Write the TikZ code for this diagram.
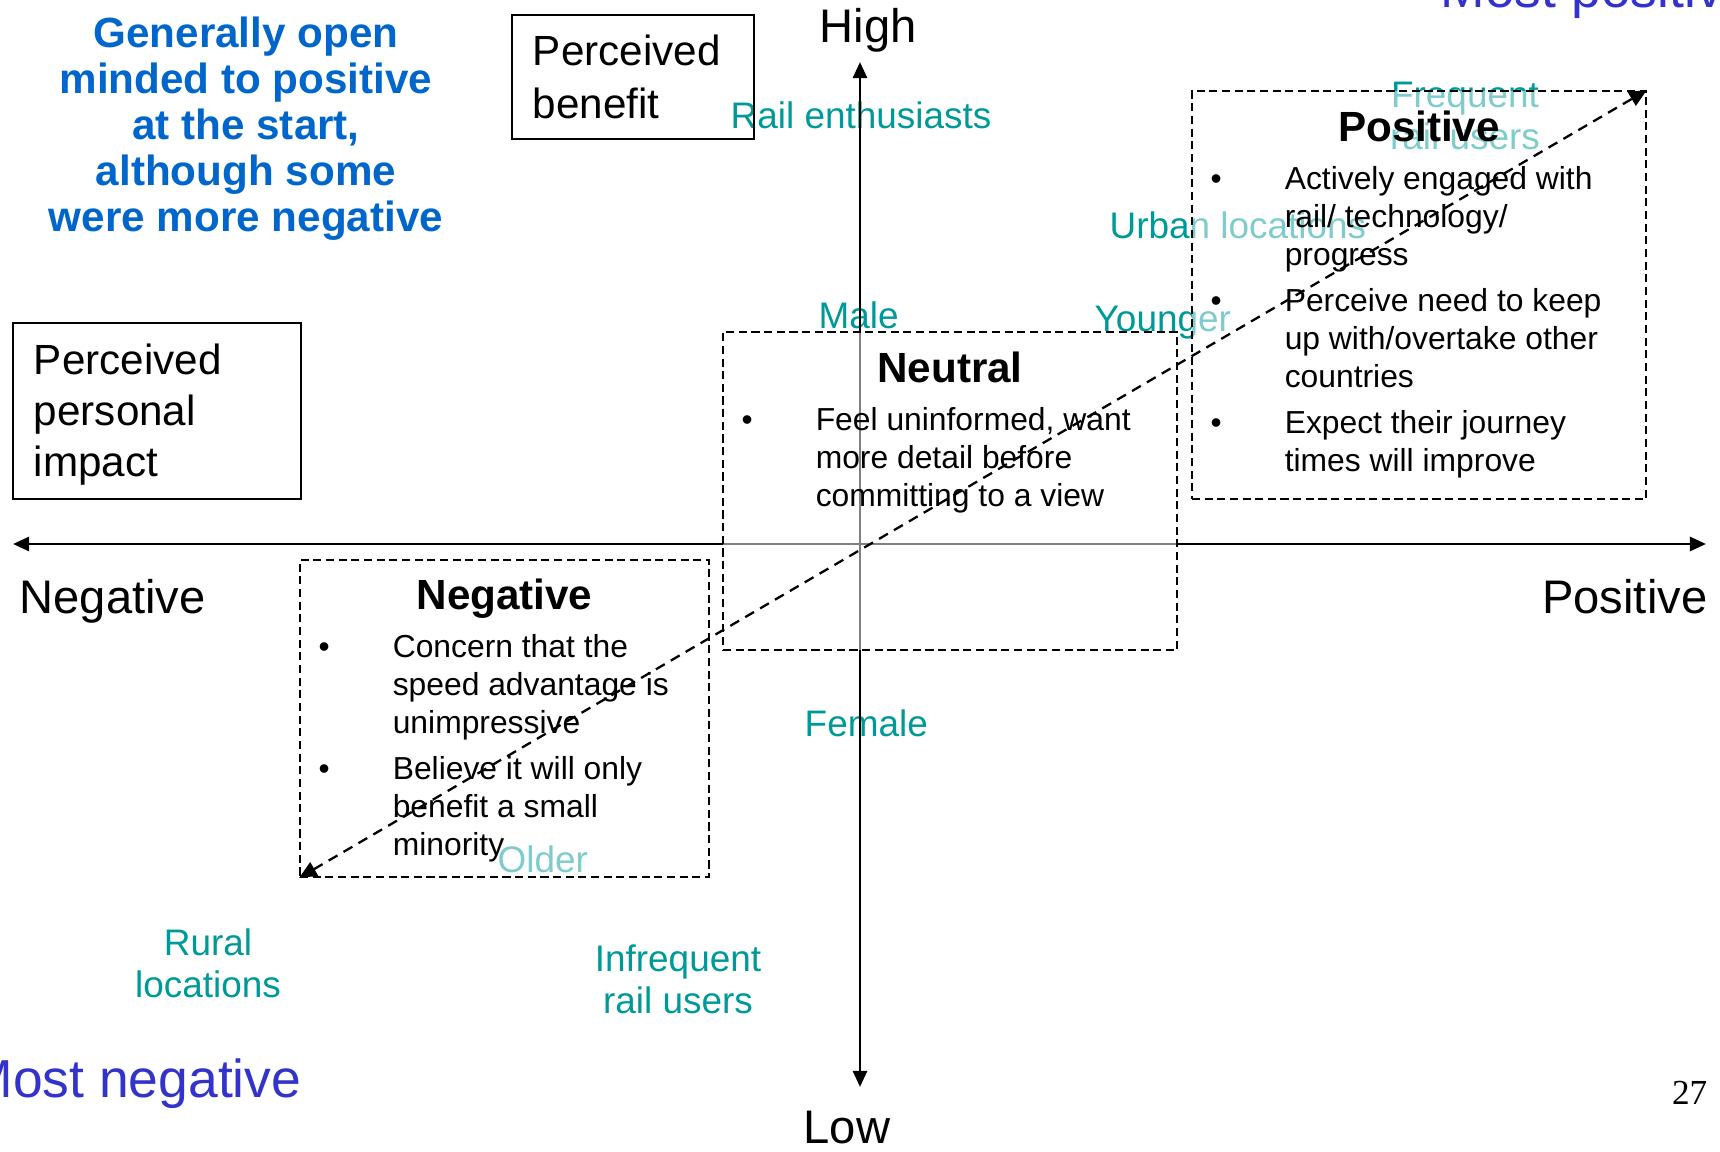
\documentclass[tikz,border=0pt]{standalone}
\usepackage{fontspec}
\setmainfont{Liberation Sans}
\newfontfamily\slidenumfont{Liberation Serif}
\usepackage{tikz}
\usetikzlibrary{positioning,arrows.meta,calc}

\definecolor{grpteal}{RGB}{0,153,153}
\definecolor{noteblue}{RGB}{0,102,204}
\definecolor{endblue}{RGB}{51,51,204}

\begin{document}
\begin{tikzpicture}[x=0.01cm, y=-0.01cm, >={Triangle[length=4.6pt,width=4pt]},
  every node/.style={inner sep=0pt},
  axislbl/.style={font=\fontsize{13.4}{16}\selectfont},
  keybox/.style={draw, line width=0.5pt, inner xsep=0.21cm, align=left},
  group/.style={text=grpteal, align=center, font=\fontsize{10.5}{12.2}\selectfont},
  zone/.style={draw, line width=0.45pt, dash pattern=on 2.3pt off 1.3pt,
               fill=white, fill opacity=0.5},
  zonetitle/.style={anchor=base, font=\bfseries\fontsize{12}{14}\selectfont},
  dot/.style={anchor=base, font=\fontsize{9}{10.8}\selectfont},
  point/.style={anchor=base west, align=left, font=\fontsize{9.05}{10.8}\selectfont},
  farend/.style={text=endblue, font=\fontsize{15.2}{18}\selectfont}]

  \useasboundingbox (0,0) rectangle (1720,1152);

  %% ─── Group labels (under the axes and zones) ───────────────────────────
  %% (multi-line nodes sit on the baseline of their last line)
  \node[group, anchor=base west] (rail)   at (730,129)  {Rail enthusiasts};
  \node[group, anchor=base west] (urban)  at (1109,239) {Urban locations};
  \node[group, anchor=base west] (male)   at (818,329)  {Male};
  \node[group, anchor=base west] (young)  at (1094,332) {Younger};
  \node[group, anchor=base]      (freq)   at (1465,150) {Frequent\\rail users};
  \node[group, anchor=base west] (female) at (804,737)  {Female};
  \node[group, anchor=base west] (older)  at (497,873)  {Older};
  \node[group, anchor=base]      (rural)  at (208,998)  {Rural\\locations};
  \node[group, anchor=base]      (infreq) at (678,1014) {Infrequent\\rail users};

  %% ─── Axes ───────────────────────────────────────────────────────────────
  \coordinate (ytop)   at (860,62);
  \coordinate (ybot)   at (860,1087);
  \coordinate (xleft)  at (13,544);
  \coordinate (xright) at (1706,544);
  \draw[<->, line width=0.8pt] (ybot) -- (ytop);
  \draw[<->, line width=0.8pt] (xleft) -- (xright);

  \node[axislbl, anchor=base]      (high) at (868,43)   {High};
  \node[axislbl, anchor=base]      (low)  at (847,1143) {Low};
  \node[axislbl, anchor=base west] (neg)  at (19,614)   {Negative};
  \node[axislbl, anchor=base east] (pos)  at (1708,614) {Positive};

  %% ─── Axis keys ──────────────────────────────────────────────────────────
  \node[keybox, font=\fontsize{12}{15}\selectfont, text width=2.0cm,
        minimum width=2.42cm, minimum height=1.24cm] (benefit)
      at (633,77) {Perceived\\benefit};
  \node[keybox, font=\fontsize{12}{14.6}\selectfont, text width=2.46cm,
        minimum width=2.88cm, minimum height=1.76cm] (impact)
      at (157,411) {\rule{0pt}{0.38cm}Perceived\\personal\\impact};

  %% ─── Zones ──────────────────────────────────────────────────────────────
  \node[zone, minimum width=4.54cm, minimum height=4.08cm] (poszone) at (1419,295)   {};
  \node[zone, minimum width=4.54cm, minimum height=3.18cm] (neuzone) at (950,491)    {};
  \node[zone, minimum width=4.09cm, minimum height=3.17cm] (negzone) at (504.5,718.5) {};

  \node[zonetitle] (postitle) at ($(poszone.north)+(0,51)$) {Positive};
  \node[zonetitle] (neutitle) at ($(neuzone.north)+(0,51)$) {Neutral};
  \node[zonetitle] (negtitle) at ($(negzone.north)+(0,50)$) {Negative};

  %% positive zone
  \node[dot]   (pos_d1) at ($(poszone.north west)+(25,99)$)  {\textbullet};
  \node[point] (pos_p1) at ($(poszone.north west)+(93,175)$)
      {Actively engaged with\\rail/ technology/\\progress};
  \node[dot]   (pos_d2) at ($(poszone.north west)+(25,221)$) {\textbullet};
  \node[point] (pos_p2) at ($(poszone.north west)+(93,297)$)
      {Perceive need to keep\\up with/overtake other\\countries};
  \node[dot]   (pos_d3) at ($(poszone.north west)+(25,343)$) {\textbullet};
  \node[point] (pos_p3) at ($(poszone.north west)+(93,381)$)
      {Expect their journey\\times will improve};

  %% neutral zone
  \node[dot]   (neu_d1) at ($(neuzone.north west)+(25,99)$)  {\textbullet};
  \node[point] (neu_p1) at ($(neuzone.north west)+(93,175)$)
      {Feel uninformed, want\\more detail before\\committing to a view};

  %% negative zone
  \node[dot]   (neg_d1) at ($(negzone.north west)+(25,98)$)  {\textbullet};
  \node[point] (neg_p1) at ($(negzone.north west)+(93,174)$)
      {Concern that the\\speed advantage is\\unimpressive};
  \node[dot]   (neg_d2) at ($(negzone.north west)+(25,220)$) {\textbullet};
  \node[point] (neg_p2) at ($(negzone.north west)+(93,296)$)
      {Believe it will only\\benefit a small\\minority};

  %% trend from most negative to most positive
  \draw[{Triangle[length=5pt,width=4.4pt]}-{Triangle[length=5pt,width=4.4pt]},
        line width=0.65pt, dash pattern=on 2.9pt off 2pt]
      (negzone.south west) -- (poszone.north east);

  %% ─── Notes ──────────────────────────────────────────────────────────────
  \node[anchor=base, align=center, text=noteblue,
        font=\bfseries\fontsize{12}{13.1}\selectfont] (note) at (246,232)
      {Generally open\\minded to positive\\at the start,\\although some\\were more negative};

  \node[farend, anchor=base east] (mostneg) at (302,1097) {Most negative};
  \node[farend, anchor=base west] (mostpos) at (1440,8)   {Most positive};

  \node[anchor=base east, font=\slidenumfont\fontsize{10}{12}\selectfont] (pagenum)
      at (1708,1105) {27};

\end{tikzpicture}
\end{document}
